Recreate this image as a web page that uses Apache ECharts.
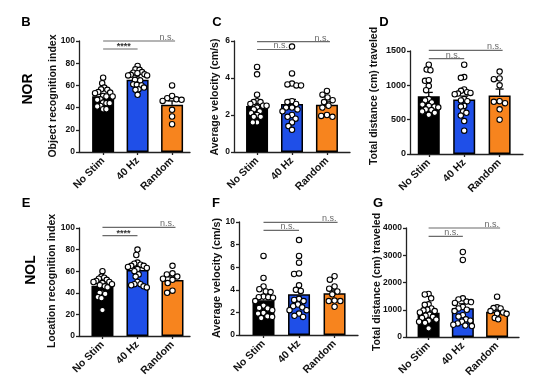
<!DOCTYPE html>
<html><head><meta charset="utf-8">
<script src="https://cdn.jsdelivr.net/npm/echarts@6/dist/echarts.min.js"></script>
<style>html,body{margin:0;padding:0;background:#fff}#c{width:550px;height:392px}</style>
</head><body><div id="c"></div>
<script>
const categories = ['No Stim', '40 Hz', 'Random'];
const barColors = ['#000000', '#1f4fe8', '#f7841e'];

// Panel B – NOR, object recognition index
const B_noStim = [67, 62, 58, 56.5, 56, 54, 53.5, 53, 50.5, 50, 50, 47.5, 47, 44.5, 44, 44, 41.5, 41, 38.5, 38.5];
const B_hz40 = [77.5, 74.5, 74, 72, 71.5, 71, 70, 69.5, 69, 69, 65.5, 65, 64.5, 61, 60.5, 60, 58, 56.5, 56, 51.5];
const B_random = [60, 50.5, 48.5, 47.5, 47, 46, 38, 32, 25];
const B_means = [50.2, 65.2, 42.6];
const B_sem = [1.7, 1.5, 3.4];
const B_sig = ['****', 'n.s.'];
const B_sigY = [92.8, 100];

// Panel C – NOR, average velocity
const C_noStim = [4.6, 4.2, 3.1, 2.75, 2.7, 2.7, 2.6, 2.5, 2.5, 2.4, 2.3, 2.2, 2.1, 2.0, 1.9, 1.9, 1.6, 1.6];
const C_hz40 = [5.7, 4.25, 3.7, 3.65, 3.6, 3.6, 2.75, 2.7, 2.6, 2.4, 2.4, 2.3, 2.2, 2.0, 1.9, 1.8, 1.6, 1.4, 1.2];
const C_random = [3.3, 3.1, 2.95, 2.8, 2.7, 2.5, 2.4, 2.0, 1.95, 1.9];
const C_means = [2.49, 2.6, 2.56];
const C_sem = [0.2, 0.24, 0.15];
const C_sig = ['n.s.', 'n.s.'];
const C_sigY = [5.54, 5.97];

// Panel D – NOR, total distance
const D_noStim = [1300, 1230, 1220, 1065, 1075, 990, 930, 800, 780, 750, 720, 700, 690, 680, 650, 640, 620, 600, 570];
const D_hz40 = [1300, 1120, 1110, 940, 920, 900, 890, 880, 870, 800, 780, 770, 700, 690, 620, 600, 560, 480, 340];
const D_random = [1200, 1100, 1090, 1000, 770, 760, 740, 650, 500];
const D_means = [842, 793, 851];
const D_sem = [55, 50, 95];
const D_sig = ['n.s.', 'n.s.'];
const D_sigY = [1388, 1509];

// Panel E – NOL, location recognition index
const E_noStim = [60, 55, 54, 53, 52, 51, 50, 50, 49, 48, 47, 46, 45, 40, 40, 39, 36, 35, 24];
const E_hz40 = [80, 75, 68, 67, 66, 65, 65, 64, 63, 62, 60, 57, 55, 50, 48, 48, 47, 46, 45];
const E_random = [65, 58, 57, 55, 53, 52, 49, 42, 40];
const E_means = [46.6, 61.2, 51.9];
const E_sem = [1.8, 2.3, 2.8];
const E_sig = ['****', 'n.s.'];
const E_sigY = [93, 100.6];

// Panel F – NOL, average velocity
const F_noStim = [7.0, 5.05, 4.3, 4.05, 3.85, 3.8, 3.4, 3.35, 3.35, 3.3, 3.0, 2.6, 2.4, 2.35, 2.2, 1.95, 1.9, 1.65, 1.6, 1.5];
const F_hz40 = [8.4, 7.0, 6.4, 5.4, 5.45, 4.4, 4.0, 3.9, 3.2, 3.1, 3.0, 2.7, 2.55, 2.45, 2.2, 2.2, 1.9, 1.7, 1.6];
const F_random = [5.2, 4.9, 4.3, 4.1, 3.85, 3.6, 3.05, 3.0, 3.0, 2.5];
const F_means = [3.07, 3.6, 3.69];
const F_sem = [0.3, 0.42, 0.28];
const F_sig = ['n.s.', 'n.s.'];
const F_sigY = [9.26, 9.97];

// Panel G – NOL, total distance
const G_noStim = [1580, 1560, 1420, 1200, 1180, 1050, 1000, 980, 950, 900, 820, 780, 740, 700, 640, 600, 560, 520, 320];
const G_hz40 = [3120, 2830, 1420, 1380, 1300, 1280, 1250, 1100, 1050, 1000, 950, 800, 750, 650, 600, 560, 500, 450, 420, 400];
const G_random = [1480, 1090, 1060, 1050, 950, 900, 860, 850, 700, 650];
const G_means = [886, 1058, 923];
const G_sem = [75, 160, 80];
const G_sig = ['n.s.', 'n.s.'];
const G_sigY = [3692, 4000];

const panels = [
  {letter:'B', pts:[B_noStim,B_hz40,B_random], means:B_means, sem:B_sem, sig:B_sig, sigY:B_sigY, yMax:100, yInt:20,
   title:'Object recognition index', tx:53, ty:96, tf:10.5, lx:26, ly:22, grid:{left:79, top:41, width:111, height:111}, xMin:-0.7, xMax:2.52, tickFont:8.5},
  {letter:'C', pts:[C_noStim,C_hz40,C_random], means:C_means, sem:C_sem, sig:C_sig, sigY:C_sigY, yMax:6, yInt:2,
   title:'Average velocity (cm/s)', tx:215, ty:97, tf:10.5, lx:217, ly:22, grid:{left:234, top:41, width:116, height:111}, xMin:-0.66, xMax:2.66, tickFont:8.5},
  {letter:'D', pts:[D_noStim,D_hz40,D_random], means:D_means, sem:D_sem, sig:D_sig, sigY:D_sigY, yMax:1500, yInt:500,
   title:'Total distance (cm) traveled', tx:374, ty:96, tf:10.5, lx:384, ly:22, grid:{left:410, top:51, width:113, height:103}, xMin:-0.53, xMax:2.66, tickFont:9},
  {letter:'E', pts:[E_noStim,E_hz40,E_random], means:E_means, sem:E_sem, sig:E_sig, sigY:E_sigY, yMax:100, yInt:20,
   title:'Location recognition index', tx:52, ty:281, tf:10.5, lx:26, ly:203, grid:{left:79, top:228, width:111, height:108}, xMin:-0.67, xMax:2.5, tickFont:8.5},
  {letter:'F', pts:[F_noStim,F_hz40,F_random], means:F_means, sem:F_sem, sig:F_sig, sigY:F_sigY, yMax:10, yInt:2,
   title:'Average velocity (cm/s)', tx:217, ty:278, tf:10.8, lx:216, ly:203, grid:{left:239, top:222, width:119, height:113}, xMin:-0.69, xMax:2.66, tickFont:8.5},
  {letter:'G', pts:[G_noStim,G_hz40,G_random], means:G_means, sem:G_sem, sig:G_sig, sigY:G_sigY, yMax:4000, yInt:1000,
   title:'Total distance (cm) traveled', tx:377, ty:282, tf:10.5, lx:378, ly:203, grid:{left:406, top:228, width:113, height:109}, xMin:-0.66, xMax:2.64, tickFont:8.5}
];

const FONT = "'Liberation Sans', Arial, sans-serif";
const axisLineStyle = {color:'#222', width:1.3};

// beeswarm offsets (pixels) for a group, given pixel y positions, squeezed to a max half-width
function swarm(ys, d, maxHalf) {
  const order = ys.map((y, i) => i).sort((a, b) => ys[a] - ys[b]);
  const placed = [];
  const off = new Array(ys.length).fill(0);
  for (const i of order) {
    const y = ys[i];
    const iv = [];
    for (const p of placed) {
      const dy = Math.abs(p.y - y);
      if (dy < d) { const dx = Math.sqrt(d * d - dy * dy); iv.push([p.x - dx, p.x + dx]); }
    }
    const cands = [0];
    iv.forEach(([a, b]) => cands.push(a, b));
    cands.sort((a, b) => Math.abs(a) - Math.abs(b) || a - b);
    let x = 0;
    for (const c of cands) {
      if (iv.every(([a, b]) => c <= a + 1e-6 || c >= b - 1e-6)) { x = c; break; }
    }
    off[i] = x;
    placed.push({x, y});
  }
  const m = Math.max(...off.map(Math.abs));
  const k = m > maxHalf ? maxHalf / m : 1;
  return off.map(o => o * k);
}
const swarmCache = {};

const grids = [], xAxes = [], yAxes = [], series = [], graphics = [];
panels.forEach((p, pi) => {
  grids.push(Object.assign({containLabel:false}, p.grid));
  xAxes.push({
    gridIndex: pi, type: 'value', min: p.xMin, max: p.xMax,
    axisLine: {show: true, onZero: false, lineStyle: axisLineStyle},
    axisTick: {show: true, customValues: [0, 1, 2], length: 3, lineStyle: axisLineStyle},
    axisLabel: {customValues: [0, 1, 2], formatter: v => categories[Math.round(v)] || '', rotate: 45,
      fontSize: 10.5, fontWeight: 'bold', color: '#111', margin: 7, fontFamily: FONT},
    splitLine: {show: false}
  });
  yAxes.push({
    gridIndex: pi, type: 'value', min: 0, max: p.yMax, interval: p.yInt,
    axisLine: {show: true, onZero: false, lineStyle: axisLineStyle},
    axisTick: {show: true, length: 3, lineStyle: axisLineStyle},
    axisLabel: {fontSize: p.tickFont, fontWeight: 'bold', color: '#111', margin: 4, fontFamily: FONT,
      formatter: v => String(v)},
    splitLine: {show: false}
  });
  // bars
  series.push({
    type: 'bar', xAxisIndex: pi, yAxisIndex: pi, barWidth: 22, z: 2,
    data: p.means.map((m, j) => ({value: [j, m], itemStyle: {color: barColors[j]}})),
    itemStyle: {borderColor: '#000', borderWidth: 1.5},
    emphasis: {disabled: true}, animation: false
  });
  // error bars (mean + SEM)
  series.push({
    type: 'custom', xAxisIndex: pi, yAxisIndex: pi, z: 3, clip: false, animation: false,
    data: p.means.map((m, j) => [j, m, p.sem[j]]),
    renderItem: (params, api) => {
      const x = api.value(0), m = api.value(1), s = api.value(2);
      const a = api.coord([x, m]), b = api.coord([x, m + s]);
      const style = {stroke: '#000', lineWidth: 1.3};
      return {type: 'group', children: [
        {type: 'line', shape: {x1: a[0], y1: a[1], x2: b[0], y2: b[1]}, style},
        {type: 'line', shape: {x1: b[0] - 4, y1: b[1], x2: b[0] + 4, y2: b[1]}, style}
      ]};
    }
  });
  // individual points
  const ptData = [];
  p.pts.forEach((arr, j) => arr.forEach((v, k) => ptData.push([j, v, k])));
  series.push({
    type: 'custom', xAxisIndex: pi, yAxisIndex: pi, z: 4, clip: false, animation: false,
    data: ptData,
    renderItem: (params, api) => {
      const j = api.value(0), v = api.value(1), k = api.value(2);
      const key = pi + '-' + j;
      if (!swarmCache[key]) {
        const ys = p.pts[j].map(val => api.coord([j, val])[1]);
        swarmCache[key] = swarm(ys, 5.8, 9.5);
      }
      const c = api.coord([j, v]);
      return {type: 'circle', shape: {cx: c[0] + swarmCache[key][k], cy: c[1], r: 2.7},
        style: {fill: '#fff', stroke: '#000', lineWidth: 1.1}};
    }
  });
  // significance brackets
  series.push({
    type: 'custom', xAxisIndex: pi, yAxisIndex: pi, z: 5, clip: false, animation: false,
    data: [[0, 1, p.sigY[0], 0], [0, 2, p.sigY[1], 1]],
    renderItem: (params, api) => {
      const x1 = api.value(0), x2 = api.value(1), y = api.value(2), idx = api.value(3);
      const a = api.coord([x1, y]), b = api.coord([x2, y]);
      const label = p.sig[idx];
      const isStar = label.indexOf('*') >= 0;
      const endX = b[0] + (idx === 1 ? 3 : 0);
      let tx, align;
      if (isStar) { tx = a[0] + 0.6 * (b[0] - a[0]); align = 'center'; }
      else { tx = endX - (idx === 1 ? 1 : 4); align = 'right'; }
      return {type: 'group', children: [
        {type: 'line', shape: {x1: a[0], y1: a[1], x2: endX, y2: a[1]}, style: {stroke: '#6a6a6a', lineWidth: 1.2}},
        {type: 'text', x: tx, y: a[1] + (isStar ? 2 : 1),
         style: {text: label, align, verticalAlign: 'bottom', fill: isStar ? '#333' : '#6a6a6a',
           font: (isStar ? 'bold 9px ' : '9px ') + FONT}}
      ]};
    }
  });
  // y-axis title
  graphics.push({type: 'text', x: p.tx, y: p.ty, rotation: Math.PI / 2,
    style: {text: p.title, align: 'center', verticalAlign: 'middle', fill: '#111', font: 'bold ' + p.tf + 'px ' + FONT}});
  // panel letter
  graphics.push({type: 'text', x: p.lx, y: p.ly,
    style: {text: p.letter, align: 'center', verticalAlign: 'middle', fill: '#000', font: 'bold 13px ' + FONT}});
});
// row labels
graphics.push({type: 'text', x: 28, y: 89, rotation: Math.PI / 2,
  style: {text: 'NOR', align: 'center', verticalAlign: 'middle', fill: '#000', font: 'bold 14px ' + FONT}});
graphics.push({type: 'text', x: 31, y: 270, rotation: Math.PI / 2,
  style: {text: 'NOL', align: 'center', verticalAlign: 'middle', fill: '#000', font: 'bold 14px ' + FONT}});

const chart = echarts.init(document.getElementById('c'), null, {renderer: 'canvas'});
chart.setOption({
  animation: false,
  backgroundColor: '#fff',
  textStyle: {fontFamily: FONT},
  grid: grids, xAxis: xAxes, yAxis: yAxes, series, graphic: graphics
});
</script>
</body></html>
